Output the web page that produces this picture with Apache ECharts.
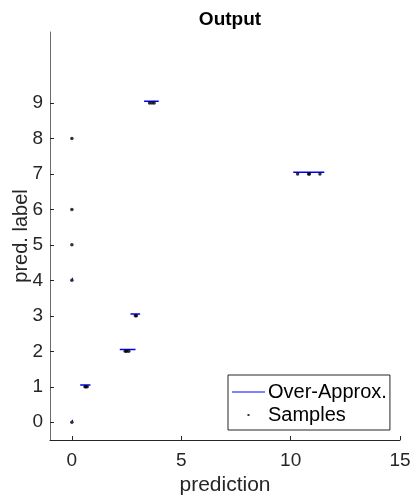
<!DOCTYPE html>
<html>
<head>
<meta charset="utf-8">
<script src="https://cdn.jsdelivr.net/npm/echarts@6/dist/echarts.min.js"></script>
<style>
    html, body { margin: 0; padding: 0; background: #fff; }
    #chart { width: 413px; height: 496px; }
</style>
</head>
<body>
<div id="chart"></div>
<script>
// 预测标签
const labels = [0, 1, 2, 3, 4, 5, 6, 7, 8, 9];
// 过近似区间（下界 / 上界）
const approxLo = [0, 0.38, 2.19, 2.68, 0, 0, 0, 10.12, 0, 3.3];
const approxHi = [0.05, 0.85, 2.91, 3.12, 0.05, 0.03, 0.03, 11.54, 0.03, 3.97];
// 采样点
const sampleX = [0, 0.6, 0.64, 0.7, 2.44, 2.5, 2.6, 2.9, 2.95, 0, 0, 0, 10.32, 10.82, 10.86, 11.34, 0, 3.55, 3.66, 3.76];
const sampleY = [0, 1, 1, 1, 2, 2, 2, 3, 3, 4, 5, 6, 7, 7, 7, 7, 8, 9, 9, 9];
// 刻度
const xTicks = [0, 5, 10, 15];
const yTicks = [0, 1, 2, 3, 4, 5, 6, 7, 8, 9];

const font = "'Liberation Sans', Arial, sans-serif";
const axisColor = '#262626';

// 过近似线段，用 '-' 断开
let approxData = [];
labels.forEach((l, i) => {
    approxData.push([approxLo[i], l + 0.05]);
    approxData.push([approxHi[i], l + 0.05]);
    approxData.push(['-', '-']);
});
let sampleData = sampleX.map((x, i) => [x, sampleY[i]]);

const myChart = echarts.init(document.getElementById('chart'));
myChart.setOption({
    animation: false,
    textStyle: { fontFamily: font },
    title: {
        text: 'Output',
        left: 225,
        textAlign: 'center',
        top: 5,
        textStyle: { fontSize: 19, fontWeight: 'bold', color: '#000', fontFamily: font }
    },
    grid: { left: 50, right: 13, top: 32, bottom: 56, outerBoundsMode: 'none', containLabel: false },
    legend: {
        orient: 'vertical',
        left: 228,
        top: 375,
        padding: [7, 3, 5, 4],
        itemGap: 3,
        itemWidth: 33,
        itemHeight: 14,
        itemStyle: { borderWidth: 0 },
        borderColor: axisColor,
        borderWidth: 1,
        borderRadius: 0,
        backgroundColor: '#fff',
        textStyle: { fontSize: 20, color: '#000', fontFamily: font, padding: [0, 0, 0, -2] },
        data: [
            {
                name: 'Over-Approx.',
                icon: 'path://M0,6.5 L33,6.5 L33,7.6 L0,7.6 Z',
                itemStyle: { color: '#0000ff' }
            },
            {
                name: 'Samples',
                icon: 'path://M0,0 M33,0 M33,14 M0,14 M15.5,6 L17.5,6 L17.5,8 L15.5,8 Z',
                itemStyle: { color: '#000' }
            }
        ]
    },
    xAxis: {
        type: 'value',
        min: -1,
        max: 15,
        name: 'prediction',
        nameLocation: 'middle',
        nameGap: 29,
        nameTextStyle: { fontSize: 21, color: axisColor, fontFamily: font },
        splitLine: { show: false },
        axisLine: { show: true, onZero: false, lineStyle: { color: axisColor, width: 1 } },
        axisTick: {
            show: true, inside: true, length: 4,
            lineStyle: { color: axisColor },
            customValues: xTicks
        },
        axisLabel: {
            fontSize: 19, color: axisColor, margin: 11,
            customValues: xTicks
        }
    },
    yAxis: {
        type: 'value',
        min: -0.5,
        max: 11,
        name: 'pred. label',
        nameLocation: 'middle',
        nameGap: 19,
        nameMoveOverlap: false,
        nameTextStyle: { fontSize: 20, color: axisColor, fontFamily: font },
        splitLine: { show: false },
        axisLine: { show: true, onZero: false, lineStyle: { color: '#6a6a6a', width: 1 } },
        axisTick: {
            show: true, inside: true, length: 4,
            lineStyle: { color: axisColor },
            customValues: yTicks
        },
        axisLabel: {
            fontSize: 19, color: axisColor, margin: 7,
            customValues: yTicks
        }
    },
    series: [
        {
            name: 'Over-Approx.',
            type: 'line',
            data: approxData,
            symbol: 'none',
            connectNulls: false,
            lineStyle: { color: '#0000ff', width: 1.5 },
            itemStyle: { color: '#0000ff' },
            z: 2
        },
        {
            name: 'Samples',
            type: 'scatter',
            data: sampleData,
            symbol: 'circle',
            symbolSize: 3.5,
            itemStyle: { color: '#000' },
            z: 3
        }
    ]
});
</script>
</body>
</html>
